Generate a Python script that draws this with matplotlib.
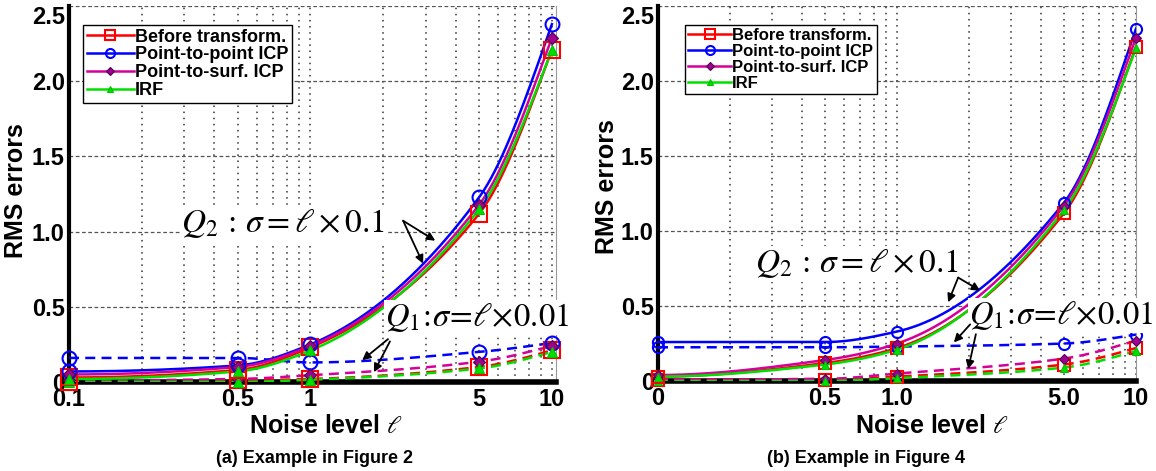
"""RMS errors vs noise level for two examples (Q1 / Q2 noise models)."""

import numpy as np
import matplotlib
matplotlib.use("Agg")
import matplotlib.pyplot as plt
from matplotlib.ticker import FixedLocator

plt.rcParams["font.family"] = ["Liberation Sans", "DejaVu Sans"]
plt.rcParams["mathtext.fontset"] = "stix"

# ---------------------------------------------------------------------------
# Data
# ---------------------------------------------------------------------------
METHODS = ["Before transform.", "Point-to-point ICP", "Point-to-surf. ICP", "IRF"]

NOISE_A = [0.1, 0.5, 1, 5, 10]
TICKLABELS_A = ["0.1", "0.5", "1", "5", "10"]
NOISE_B = [0, 0.5, 1, 5, 10]
TICKLABELS_B = ["0", "0.5", "1.0", "5.0", "10"]

# (a) Example in Figure 2
A_Q2_BEFORE = [0.03, 0.08, 0.23, 1.12, 2.21]
A_Q2_P2P = [0.07, 0.11, 0.25, 1.23, 2.38]
A_Q2_P2S = [0.05, 0.10, 0.24, 1.18, 2.29]
A_Q2_IRF = [0.02, 0.07, 0.21, 1.15, 2.21]
A_Q1_BEFORE = [0.00, 0.01, 0.02, 0.10, 0.21]
A_Q1_P2P = [0.16, 0.16, 0.13, 0.20, 0.26]
A_Q1_P2S = [0.01, 0.02, 0.045, 0.135, 0.24]
A_Q1_IRF = [0.00, 0.00, 0.015, 0.09, 0.20]

# (b) Example in Figure 4
B_Q2_BEFORE = [0.03, 0.12, 0.22, 1.12, 2.23]
B_Q2_P2P = [0.26, 0.26, 0.33, 1.19, 2.35]
B_Q2_P2S = [0.04, 0.14, 0.25, 1.17, 2.29]
B_Q2_IRF = [0.03, 0.11, 0.21, 1.14, 2.22]
B_Q1_BEFORE = [0.01, 0.01, 0.03, 0.11, 0.22]
B_Q1_P2P = [0.225, 0.225, 0.23, 0.25, 0.31]
B_Q1_P2S = [0.02, 0.015, 0.05, 0.15, 0.27]
B_Q1_IRF = [0.00, 0.00, 0.02, 0.09, 0.20]

COLORS = ["#ff0000", "#0000ff", "#d4009a", "#00e000"]
STYLES = [
    dict(marker="s", mfc="none", mec="#ff0000", mew=1.5),
    dict(marker="o", mfc="none", mec="#0000ff", mew=1.5),
    dict(marker="D", mfc="#a00090", mec="#500050", mew=0.8),
    dict(marker="^", mfc="#00e000", mec="#00c000", mew=0.8),
]
MSIZE = [11, 10, 6, 7]

# log grid 0.1 .. 10
LOG_GRID = [m * 10.0 ** e for e in (-1, 0) for m in range(1, 10)] + [10.0]


# ---------------------------------------------------------------------------
# Helpers
# ---------------------------------------------------------------------------

def pchip(x, y, xn):
    """Monotone cubic Hermite curve through (x, y), evaluated at xn."""
    x = np.asarray(x, float)
    y = np.asarray(y, float)
    h = np.diff(x)
    d = np.diff(y) / h
    n = len(x)
    m = np.zeros(n)
    for k in range(1, n - 1):
        if d[k - 1] * d[k] > 0:
            w1 = 2 * h[k] + h[k - 1]
            w2 = h[k] + 2 * h[k - 1]
            m[k] = (w1 + w2) / (w1 / d[k - 1] + w2 / d[k])
    m[0] = ((2 * h[0] + h[1]) * d[0] - h[0] * d[1]) / (h[0] + h[1])
    if np.sign(m[0]) != np.sign(d[0]):
        m[0] = 0.0
    m[-1] = ((2 * h[-1] + h[-2]) * d[-1] - h[-1] * d[-2]) / (h[-1] + h[-2])
    if np.sign(m[-1]) != np.sign(d[-1]):
        m[-1] = 0.0
    idx = np.clip(np.searchsorted(x, xn) - 1, 0, n - 2)
    t = (xn - x[idx]) / h[idx]
    h00 = 2 * t**3 - 3 * t**2 + 1
    h10 = t**3 - 2 * t**2 + t
    h01 = -2 * t**3 + 3 * t**2
    h11 = t**3 - t**2
    return (h00 * y[idx] + h10 * h[idx] * m[idx]
            + h01 * y[idx + 1] + h11 * h[idx] * m[idx + 1])


# semilog axis; a noise level of 0 is shown in the 0.1 slot
def fwd(v):
    return np.log10(np.maximum(np.asarray(v, float), 0.1))


def inv(p):
    return 10.0 ** np.asarray(p, float)


def draw_panel(ax, noise, labels, q2, q1, xmax, msize_scale, leg_anchor,
               leg_size, q2_text, q2_arrows, q1_text, q1_arrows, xlab_xy,
               ylab_xy):
    ax.set_xscale("function", functions=(fwd, inv))
    ax.set_xlim(0.1, xmax)
    ax.set_ylim(0, 2.5)

    pfine = np.linspace(fwd(noise[0]), fwd(noise[-1]), 400)
    px = fwd(noise)
    handles = []
    for series, ls in ((q1, (0, (4, 2.5))), (q2, "-")):
        for i, vals in enumerate(series):
            ax.plot(inv(pfine), pchip(px, vals, pfine), color=COLORS[i],
                    lw=1.8, ls=ls, zorder=3)
            ax.plot(noise, vals, ls="none", ms=MSIZE[i] * msize_scale,
                    clip_on=False, zorder=4, **STYLES[i])
    for i in range(4):
        h, = ax.plot([], [], color=COLORS[i], lw=1.8,
                     ms=MSIZE[i] * 0.65, **STYLES[i])
        handles.append(h)

    leg = ax.legend(handles, METHODS, loc="upper left",
                    bbox_to_anchor=leg_anchor, fancybox=False, framealpha=1,
                    edgecolor="black", borderpad=0.2, labelspacing=0.05,
                    handlelength=2.6, handletextpad=0.05, borderaxespad=0,
                    prop=dict(weight="bold", size=leg_size))
    leg.get_frame().set_linewidth(1.0)
    leg.set_zorder(6)

    ax.set_xticks(noise)
    ax.set_xticklabels(labels)
    ax.xaxis.set_minor_locator(FixedLocator(LOG_GRID))
    ax.set_yticks([0, 0.5, 1.0, 1.5, 2.0, 2.5])
    ax.set_yticklabels(["0", "0.5", "1.0", "1.5", "2.0", "2.5"])
    ax.tick_params(which="both", length=0, labelsize=17, pad=3)
    ax.tick_params(axis="x", pad=4)
    for t in ax.get_xticklabels() + ax.get_yticklabels():
        t.set_fontweight("bold")
    yticks = ax.yaxis.get_major_ticks()
    yticks[-1].label1.set_verticalalignment("top")
    yticks[0].label1.set_verticalalignment("center_baseline")

    ax.grid(True, which="both", axis="x", ls=(0, (1, 3)), color="#333333",
            lw=1.1)
    ax.grid(True, axis="y", ls=(0, (3, 2)), color="#555555", lw=0.9)
    ax.set_axisbelow(True)

    ax.spines["top"].set_visible(False)
    ax.spines["right"].set_color("#999999")
    ax.spines["right"].set_linewidth(0.8)
    ax.spines["left"].set_linewidth(3)
    ax.spines["bottom"].set_linewidth(4)

    ax.set_xlabel(r"Noise level $\ell$", fontsize=18, fontweight="bold")
    ax.xaxis.label.set_va("center")
    ax.xaxis.set_label_coords(*xlab_xy)
    ax.set_ylabel("RMS errors", fontsize=18, fontweight="bold")
    ax.yaxis.label.set_va("center")
    ax.yaxis.set_label_coords(*ylab_xy)

    bbox = dict(fc="white", ec="none", pad=1)
    ax.text(*q2_text, r"$Q_2\,:\,\sigma = \ell \times 0.1$",
            transform=ax.transAxes, fontsize=24, ha="center", va="center",
            bbox=bbox, zorder=5)
    ax.text(*q1_text, r"$Q_1\!:\!\sigma\!=\!\ell\!\times\!0.01$",
            transform=ax.transAxes, fontsize=23.5, ha="center", va="center",
            bbox=bbox, zorder=5, clip_on=False)
    arrow = dict(arrowstyle="-|>", color="black", lw=1.3, mutation_scale=12,
                 shrinkA=0, shrinkB=0)
    for tail, head in q2_arrows + q1_arrows:
        ax.annotate("", xy=head, xytext=tail, xycoords="axes fraction",
                    textcoords="axes fraction", arrowprops=arrow, zorder=5)


# ---------------------------------------------------------------------------
# Figure
# ---------------------------------------------------------------------------
fig = plt.figure(figsize=(11.56, 4.71), dpi=100)
ax_a = fig.add_axes([0.0597, 0.189, 0.4213, 0.798])
ax_b = fig.add_axes([0.5692, 0.191, 0.4135, 0.796])

draw_panel(ax_a, NOISE_A, TICKLABELS_A,
           [A_Q2_BEFORE, A_Q2_P2P, A_Q2_P2S, A_Q2_IRF],
           [A_Q1_BEFORE, A_Q1_P2P, A_Q1_P2S, A_Q1_IRF],
           xmax=10.4, msize_scale=1.0, leg_anchor=(0.029, 0.95), leg_size=13,
           q2_text=(0.439, 0.421),
           q2_arrows=[((0.686, 0.429), (0.752, 0.376)),
                      ((0.686, 0.429), (0.727, 0.315))],
           q1_text=(0.838, 0.172),
           q1_arrows=[((0.655, 0.114), (0.602, 0.058)),
                      ((0.659, 0.108), (0.626, 0.026))],
           xlab_xy=(0.528, -0.118), ylab_xy=(-0.108, 0.508))

draw_panel(ax_b, NOISE_B, TICKLABELS_B,
           [B_Q2_BEFORE, B_Q2_P2P, B_Q2_P2S, B_Q2_IRF],
           [B_Q1_BEFORE, B_Q1_P2P, B_Q1_P2S, B_Q1_IRF],
           xmax=10.0, msize_scale=0.8, leg_anchor=(0.056, 0.95), leg_size=12,
           q2_text=(0.416, 0.313),
           q2_arrows=[((0.628, 0.276), (0.607, 0.210)),
                      ((0.628, 0.276), (0.674, 0.241))],
           q1_text=(0.843, 0.175),
           q1_arrows=[((0.653, 0.151), (0.619, 0.103)),
                      ((0.665, 0.125), (0.649, 0.032))],
           xlab_xy=(0.573, -0.121), ylab_xy=(-0.106, 0.52))

fig.text(0.272, 0.026, "(a) Example in Figure 2", ha="center", va="center",
         fontsize=13, fontweight="bold")
fig.text(0.749, 0.026, "(b) Example in Figure 4", ha="center", va="center",
         fontsize=13, fontweight="bold")

fig.savefig("out.png", dpi=100)
